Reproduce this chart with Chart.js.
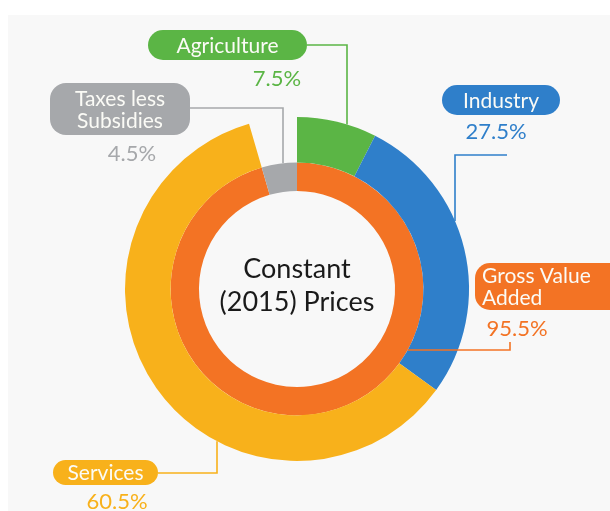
<!DOCTYPE html>
<html>
<head>
<meta charset="utf-8">
<script src="https://cdn.jsdelivr.net/npm/chart.js@4.4.1/dist/chart.umd.min.js"></script>
<style>
  html, body { margin: 0; padding: 0; background: #fff; }
  .panel { position: absolute; left: 8px; top: 15px; width: 602px; height: 496px; background: #f8f8f8; }
  .wrap { position: absolute; left: 0; top: 0; width: 610px; height: 511px; }
</style>
</head>
<body>
<div class="panel"></div>
<div class="wrap"><canvas id="gvaChart"></canvas></div>
<script>
// GVA composition at constant (2015) prices, percent
const sectors = ["Agriculture", "Industry", "Services"];
const sectorShares = [7.5, 27.5, 60.5];
const taxesShare = 4.5;
const gvaShare = 95.5;

const sectorColors = ["#5bb545", "#2f7fca", "#f8b11b"];
const gvaColor = "#f37324";
const taxesColor = "#a6a8ab";

const FONT = "Lato, 'Open Sans', sans-serif";

function pill(ctx, x, y, w, h, r, color) {
  ctx.beginPath();
  ctx.roundRect(x, y, w, h, r);
  ctx.fillStyle = color;
  ctx.fill();
}

// y (or x) where a vertical (or horizontal) leader meets a ring edge
function edgeY(arc, x, r, sign) {
  const dx = x - arc.x;
  return arc.y + sign * Math.sqrt(Math.max(r * r - dx * dx, 0));
}
function edgeX(arc, y, r, sign) {
  const dy = y - arc.y;
  return arc.x + sign * Math.sqrt(Math.max(r * r - dy * dy, 0));
}

const callouts = [
  { // Agriculture
    ds: 0, idx: 0, color: sectorColors[0], lines: [sectors[0]], value: sectorShares[0],
    box: { x: 148, y: 30, w: 159, h: 30, r: 15 }, valuePos: [277, 79],
    path: (a) => [[307, 45], [347, 45], [347, edgeY(a, 347, a.outerRadius, -1)]]
  },
  { // Taxes less Subsidies
    ds: 1, idx: 1, color: taxesColor, lines: ["Taxes less", "Subsidies"], value: taxesShare,
    box: { x: 50, y: 83, w: 140, h: 52, r: 16 }, valuePos: [132, 154],
    path: (a) => [[190, 108], [283, 108], [283, edgeY(a, 283, a.outerRadius, -1)]]
  },
  { // Industry
    ds: 0, idx: 1, color: sectorColors[1], lines: [sectors[1]], value: sectorShares[1],
    box: { x: 442, y: 85, w: 118, h: 30, r: 15 }, valuePos: [496, 132],
    path: (a) => [[507, 155], [455, 155], [455, edgeY(a, 455, a.outerRadius, -1)]]
  },
  { // Gross Value Added
    ds: 1, idx: 0, color: gvaColor, lines: ["Gross Value", "Added"], value: gvaShare,
    box: { x: 475, y: 263, w: 150, h: 47, r: 15 }, valuePos: [517, 329], textX: 482,
    path: (a) => [[510, 342], [510, 350], [edgeX(a, 350, a.outerRadius, 1), 350]]
  },
  { // Services
    ds: 0, idx: 2, color: sectorColors[2], lines: [sectors[2]], value: sectorShares[2],
    box: { x: 53, y: 460, w: 105, h: 25, r: 12.5 }, valuePos: [117, 502],
    path: (a) => [[158, 473], [217, 473], [217, edgeY(a, 217, a.outerRadius, 1)]]
  }
];

const calloutPlugin = {
  id: "callouts",
  afterDraw(chart) {
    const ctx = chart.ctx;
    ctx.save();
    callouts.forEach(c => {
      const arc = chart.getDatasetMeta(c.ds).data[c.idx];
      const pts = c.path(arc);
      ctx.beginPath();
      ctx.moveTo(pts[0][0], pts[0][1]);
      pts.slice(1).forEach(p => ctx.lineTo(p[0], p[1]));
      ctx.strokeStyle = c.color;
      ctx.lineWidth = 1.6;
      ctx.stroke();

      const b = c.box;
      pill(ctx, b.x, b.y, b.w, b.h, b.r, c.color);
      ctx.fillStyle = "#fbfbf6";
      ctx.font = "21px " + FONT;
      ctx.textBaseline = "middle";
      const lineH = 22;
      const y0 = b.y + b.h / 2 - (c.lines.length - 1) * lineH / 2 + 1;
      c.lines.forEach((t, i) => {
        if (c.textX) {
          ctx.textAlign = "left";
          ctx.fillText(t, c.textX, y0 + i * lineH);
        } else {
          ctx.textAlign = "center";
          ctx.fillText(t, b.x + b.w / 2, y0 + i * lineH);
        }
      });

      ctx.textAlign = "center";
      ctx.fillStyle = c.color;
      ctx.font = "22px " + FONT;
      ctx.fillText(c.value.toFixed(1) + "%", c.valuePos[0], c.valuePos[1]);
    });

    // centre caption
    const inner = chart.getDatasetMeta(1).data[0];
    ctx.fillStyle = "#1a1a1a";
    ctx.font = "27px " + FONT;
    ctx.textAlign = "center";
    ctx.textBaseline = "middle";
    ctx.fillText("Constant", inner.x, inner.y - 20);
    ctx.fillText("(2015) Prices", inner.x, inner.y + 13);
    ctx.restore();
  }
};

new Chart(document.getElementById("gvaChart"), {
  type: "doughnut",
  data: {
    labels: [...sectors, "Taxes less Subsidies"],
    datasets: [
      {
        data: [...sectorShares, taxesShare],
        backgroundColor: [...sectorColors, "rgba(0,0,0,0)"],
        borderWidth: 0,
        weight: 45
      },
      {
        data: [gvaShare, taxesShare],
        backgroundColor: [gvaColor, taxesColor],
        borderWidth: 0,
        weight: 28
      }
    ]
  },
  options: {
    responsive: true,
    maintainAspectRatio: false,
    animation: false,
    cutout: "57%",
    layout: { padding: { left: 125, right: 141, top: 117, bottom: 50 } },
    plugins: { legend: { display: false }, tooltip: { enabled: false } }
  },
  plugins: [calloutPlugin]
});
</script>
</body>
</html>
